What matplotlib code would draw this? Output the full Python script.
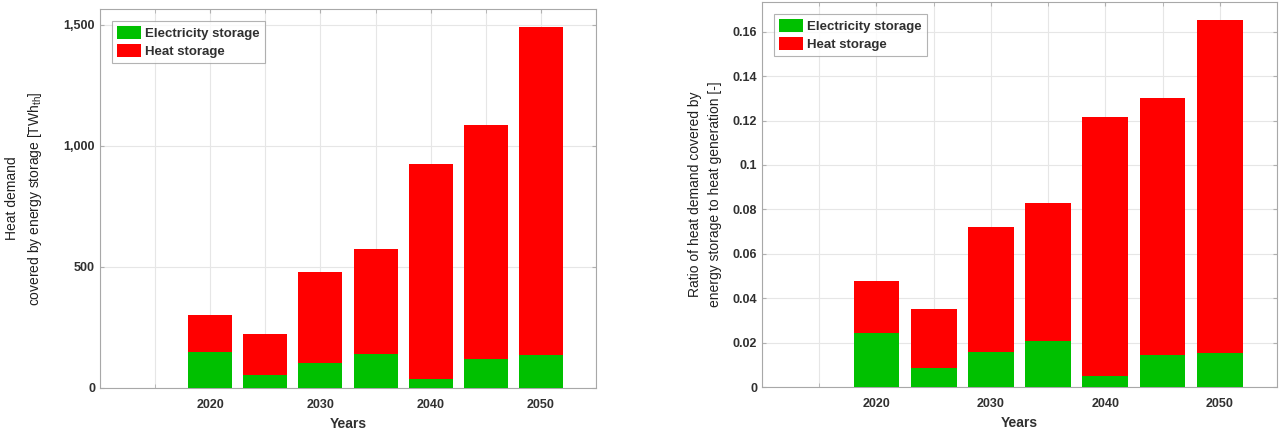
import matplotlib
matplotlib.use("Agg")
import matplotlib.pyplot as plt
from matplotlib.ticker import FuncFormatter, MultipleLocator, FixedLocator

plt.rcParams['font.family'] = ['Liberation Sans', 'DejaVu Sans']

years = [2020, 2025, 2030, 2035, 2040, 2045, 2050]
# Left: heat demand covered by energy storage [TWh_th]
elec_twh = [150, 54, 102, 140, 36, 119, 136]
heat_twh = [152, 168, 379, 433, 890, 968, 1354]
# Right: ratio to heat generation [-]
elec_ratio = [0.0242, 0.0087, 0.0159, 0.0209, 0.0050, 0.0144, 0.0155]
heat_ratio = [0.0235, 0.0263, 0.0563, 0.0621, 0.1168, 0.1159, 0.1498]

legend_labels = ["Electricity storage", "Heat storage"]
xtick_labels = ["2020", "2030", "2040", "2050"]

GREEN = "#00c000"
RED = "#ff0000"
AXC = "#303030"
GRIDC = "#e6e6e6"

fig = plt.figure(figsize=(12.79, 4.32), dpi=100)
ax1 = fig.add_axes([100/1279, 44/432, 496/1279, 379/432])
ax2 = fig.add_axes([762/1279, 45/432, 515/1279, 385/432])


def style(ax, elec, heat, ylabel, ylim, ystep, yfmt, label_x):
    ax.bar(years, elec, width=4.0, color=GREEN, label=legend_labels[0], zorder=3)
    ax.bar(years, heat, width=4.0, bottom=elec, color=RED, label=legend_labels[1], zorder=3)
    ax.set_xlim(2010, 2055)
    ax.set_ylim(0, ylim)
    ax.xaxis.set_major_locator(FixedLocator([int(t) for t in xtick_labels]))
    ax.set_xticklabels(xtick_labels)
    ax.xaxis.set_minor_locator(MultipleLocator(5))
    ax.yaxis.set_major_locator(MultipleLocator(ystep))
    ax.yaxis.set_major_formatter(FuncFormatter(yfmt))
    ax.grid(True, which='both', axis='x', color=GRIDC, lw=0.8, zorder=0)
    ax.grid(True, which='major', axis='y', color=GRIDC, lw=0.8, zorder=0)
    ax.tick_params(axis='both', which='both', direction='in', top=True, right=True,
                   colors="#b0b0b0", labelcolor=AXC, labelsize=9, length=3)
    ax.tick_params(axis='x', which='both', pad=8)
    for lab in ax.get_xticklabels() + ax.get_yticklabels():
        lab.set_fontweight('bold')
    for s in ax.spines.values():
        s.set_color("#a8a8a8")
        s.set_linewidth(0.8)
    ax.set_xlabel("Years", fontsize=10, fontweight='bold', color=AXC, labelpad=4)
    ax.set_ylabel(ylabel, fontsize=10, color="#202020", linespacing=1.55)
    ax.yaxis.set_label_coords(label_x, 0.5)
    leg = ax.legend(loc='upper left', frameon=True, fancybox=False,
                    edgecolor="#a0a0a0", borderaxespad=0.9, handlelength=1.8,
                    handleheight=1.1, handletextpad=0.3, labelspacing=0.3,
                    borderpad=0.4, prop={'weight': 'bold', 'size': 9.5})
    leg.get_frame().set_linewidth(0.8)
    for t in leg.get_texts():
        t.set_color(AXC)


style(ax1, elec_twh, heat_twh,
      "Heat demand\ncovered by energy storage [TWh$_{\\mathregular{th}}$]",
      1566, 500, lambda v, p: f"{int(round(v)):,}", (44 - 100) / 496)
style(ax2, elec_ratio, heat_ratio,
      "Ratio of heat demand covered by\nenergy storage to heat generation [-]",
      0.1734, 0.02, lambda v, p: "0" if abs(v) < 1e-9 else f"{v:.2f}".rstrip('0'),
      (722 - 762) / 515)

fig.savefig("out.png", dpi=100)
